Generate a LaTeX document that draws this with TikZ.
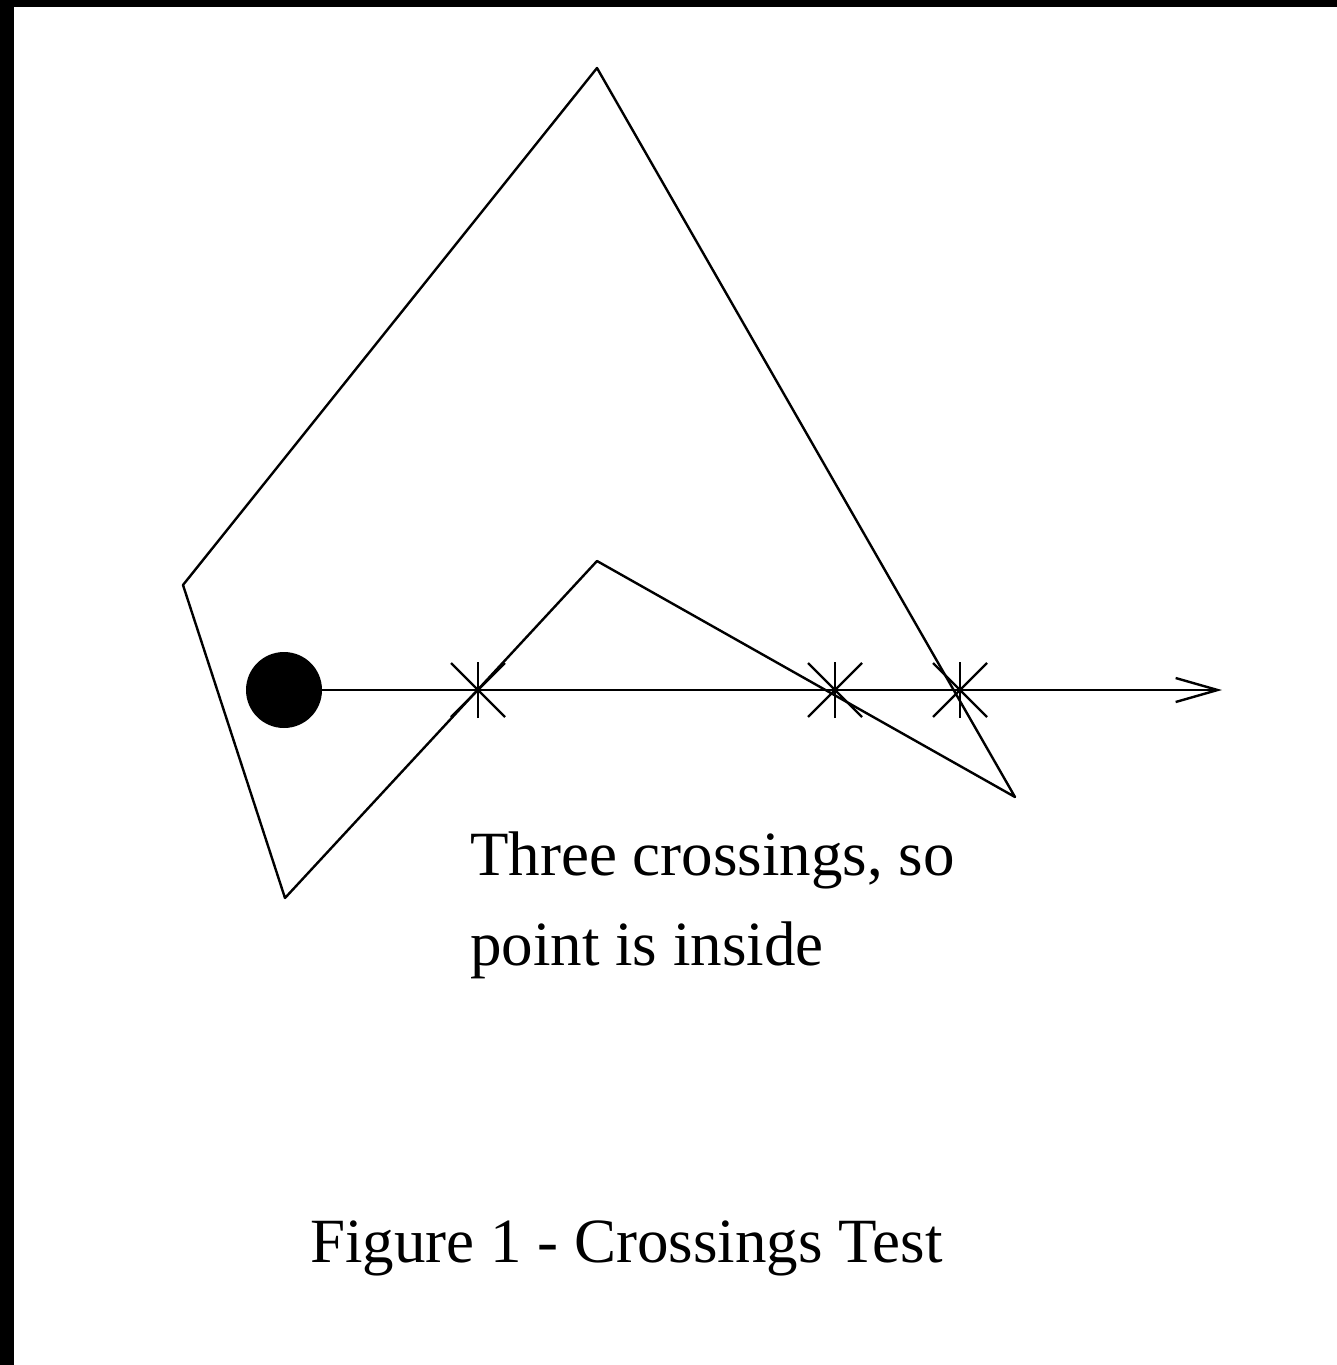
\documentclass[tikz,border=0pt]{standalone}
\usepackage{fontspec}
\setmainfont{Liberation Serif}
\usetikzlibrary{arrows.meta}
\begin{document}
\begin{tikzpicture}[x=1pt,y=-1pt,
  edge/.style={line width=2.4pt,line join=round,line cap=round},
  raystyle/.style={line width=2.8pt},
  starmark/.style={line width=2.4pt},
  label/.style={inner sep=0pt,font=\fontsize{63}{90}\selectfont}]
\useasboundingbox (0,0) rectangle (1337,1365);
\fill[white] (0,0) rectangle (1337,1365);
\fill[black] (0,0) rectangle (1337,7);
\fill[black] (0,0) rectangle (14,1365);
% polygon vertices
\coordinate (A) at (597,68);
\coordinate (B) at (183,585);
\coordinate (C) at (285,898);
\coordinate (D) at (597,561);
\coordinate (E) at (1015,797);
\draw[edge] (A) -- (B) -- (C) -- (D) -- (E) -- cycle;
% test point and ray
\node[circle,fill=black,minimum size=76pt,inner sep=0pt] (P) at (284,690) {};
\coordinate (R) at (1222,690);
\draw[raystyle,-{Straight Barb[length=42pt,width=24pt,line width=2.4pt]}] (P.east) -- (R);
% crossing marks
\foreach \n/\x in {X1/478,X2/835,X3/960}{
  \coordinate (\n) at (\x,690);
  \draw[starmark] ([yshift=-28pt]\n) -- ([yshift=28pt]\n);
  \draw[starmark] ([shift={(-27pt,-27pt)}]\n) -- ([shift={(27pt,27pt)}]\n);
  \draw[starmark] ([shift={(-27pt,27pt)}]\n) -- ([shift={(27pt,-27pt)}]\n);
}
% labels
\node[label,anchor=base west] (t1) at (470,875) {Three crossings, so};
\node[label,anchor=base west] (t2) at (470,965) {point is inside};
\node[label,anchor=base west] (cap) at (310,1262) {Figure 1 - Crossings Test};
\end{tikzpicture}
\end{document}
